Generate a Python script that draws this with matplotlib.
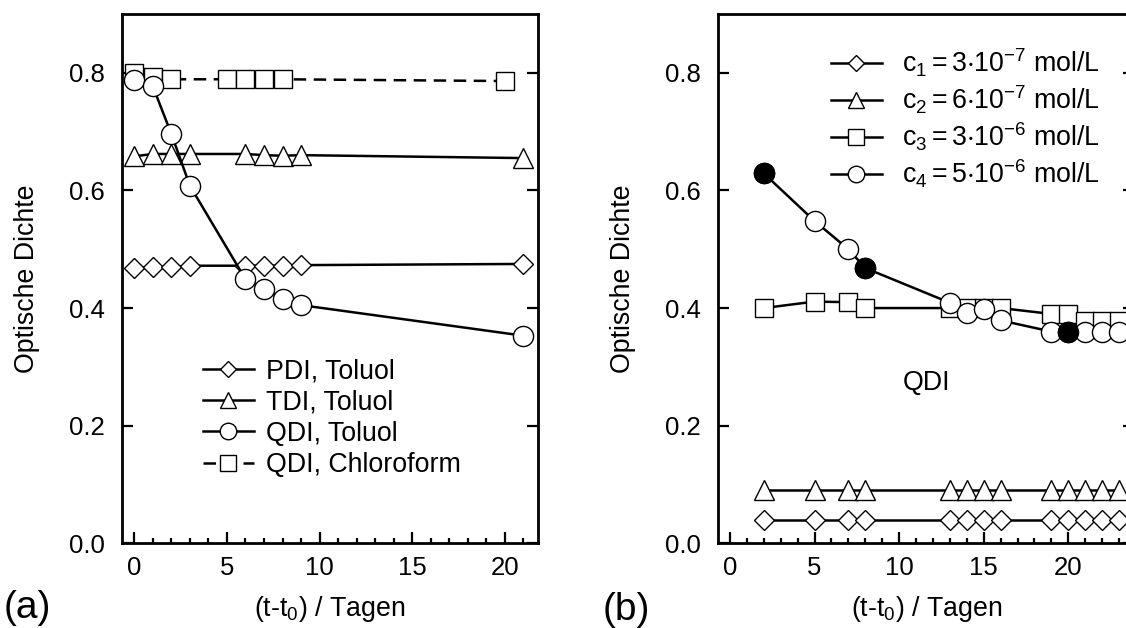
import matplotlib
matplotlib.use("Agg")
import matplotlib.pyplot as plt
from matplotlib.ticker import MultipleLocator

plt.rcParams['font.family'] = ['Liberation Sans', 'DejaVu Sans']
plt.rcParams['mathtext.fontset'] = 'custom'
plt.rcParams['mathtext.rm'] = 'Liberation Sans'
plt.rcParams['mathtext.it'] = 'Liberation Sans:italic'
plt.rcParams['mathtext.bf'] = 'Liberation Sans:bold'

# ---------------- data: panel (a) ----------------
a_days = [0, 1, 2, 3, 6, 7, 8, 9, 21]
a_pdi = [0.468, 0.470, 0.470, 0.472, 0.472, 0.472, 0.472, 0.473, 0.475]
a_tdi = [0.658, 0.662, 0.662, 0.662, 0.662, 0.660, 0.659, 0.660, 0.655]
a_qdi_tol = [0.787, 0.777, 0.696, 0.608, 0.449, 0.432, 0.416, 0.405, 0.353]
a_chl_days = [0, 1, 2, 5, 6, 7, 8, 20]
a_qdi_chl = [0.800, 0.793, 0.789, 0.789, 0.789, 0.789, 0.789, 0.786]
a_labels = ["PDI, Toluol", "TDI, Toluol", "QDI, Toluol", "QDI, Chloroform"]

# ---------------- data: panel (b) ----------------
b_days = [2, 5, 7, 8, 13, 14, 15, 16, 19, 20, 21, 22, 23]
b_c1 = [0.04] * 13
b_c2 = [0.09] * 13
b_c3 = [0.400, 0.411, 0.410, 0.400, 0.400, 0.400, 0.400, 0.400, 0.390, 0.390, 0.378, 0.378, 0.378]
b_c4 = [0.629, 0.548, 0.500, 0.468, 0.409, 0.391, 0.399, 0.379, 0.360, 0.360, 0.360, 0.360, 0.360]
b_filled_days = [2, 8, 20]
b_filled = [0.629, 0.468, 0.360]
b_labels = [r"$\mathregular{c_1 = 3{\cdot}10^{-7}}$ mol/L",
            r"$\mathregular{c_2 = 6{\cdot}10^{-7}}$ mol/L",
            r"$\mathregular{c_3 = 3{\cdot}10^{-6}}$ mol/L",
            r"$\mathregular{c_4 = 5{\cdot}10^{-6}}$ mol/L"]

xlabel = r"(t-t$\mathregular{_0}$) / Tagen"
ylabel = "Optische Dichte"

FS = 18.5     # tick labels
LFS = 19.3    # axis labels, legends, annotation
LW = 1.8
MEW = 1.0
MS = 14.5
DMS = 10.0

fig = plt.figure(figsize=(11.26, 6.28), dpi=100)
W = 416 / 1126
H = 529.3 / 628
ax1 = fig.add_axes([121.7 / 1126, 1 - 543.3 / 628, W, H])
ax2 = fig.add_axes([718.3 / 1126, 1 - 543.3 / 628, W, H])


def style(ax, xlim):
    ax.set_xlim(*xlim)
    ax.set_ylim(0, 0.9)
    ax.xaxis.set_major_locator(MultipleLocator(5))
    ax.xaxis.set_minor_locator(MultipleLocator(1))
    ax.yaxis.set_major_locator(MultipleLocator(0.2))
    ax.yaxis.set_major_formatter(plt.FuncFormatter(lambda v, p: f"{v:.1f}"))
    ax.tick_params(axis='both', which='both', direction='in', width=1.6,
                   labelsize=FS, top=False)
    ax.tick_params(axis='y', right=True, which='major', length=7.6, pad=12.3)
    ax.tick_params(axis='x', which='major', length=7.6, pad=9)
    ax.tick_params(axis='x', which='minor', length=3.8)
    for s in ax.spines.values():
        s.set_linewidth(2.0)
    ax.set_xlabel(xlabel, fontsize=LFS, labelpad=10.5)
    ax.set_ylabel(ylabel, fontsize=LFS, labelpad=21)


kw = dict(color='black', lw=LW, mfc='white', mec='black', mew=MEW)

# panel (a)
style(ax1, (-0.68, 21.77))
l_chl, = ax1.plot(a_chl_days, a_qdi_chl, marker='s', ms=MS - 1, ls=(0, (5, 3)), zorder=2, **kw)
l_pdi, = ax1.plot(a_days, a_pdi, marker='D', ms=DMS, zorder=3, **kw)
l_tdi, = ax1.plot(a_days, a_tdi, marker='^', ms=MS, zorder=3, **kw)
l_qdi, = ax1.plot(a_days, a_qdi_tol, marker='o', ms=MS, zorder=4, **kw)
ax1.legend([l_pdi, l_tdi, l_qdi, l_chl], a_labels, loc='upper left',
           bbox_to_anchor=(0.195, 0.350), frameon=False, fontsize=LFS,
           borderpad=0, borderaxespad=0, handlelength=1.9, handletextpad=0.45,
           labelspacing=0.2, markerscale=0.82)

# panel (b)
style(ax2, (-0.69, 23.9))
m_c1, = ax2.plot(b_days, b_c1, marker='D', ms=DMS, zorder=3, **kw)
m_c2, = ax2.plot(b_days, b_c2, marker='^', ms=MS, zorder=3, **kw)
m_c3, = ax2.plot(b_days, b_c3, marker='s', ms=MS - 1, zorder=3, **kw)
m_c4, = ax2.plot(b_days, b_c4, marker='o', ms=MS, zorder=4, **kw)
ax2.plot(b_filled_days, b_filled, ls='none', marker='o', ms=MS, mfc='black',
         mec='black', mew=MEW, zorder=5)
ax2.text(11.6, 0.272, "QDI", fontsize=LFS, ha='center', va='center')
ax2.legend([m_c1, m_c2, m_c3, m_c4], b_labels, loc='upper left',
           bbox_to_anchor=(0.2704, 0.939), frameon=False, fontsize=LFS,
           borderpad=0, borderaxespad=0, handlelength=1.9, handletextpad=0.75,
           labelspacing=0.18, markerscale=0.82)

fig.text(27.8 / 1126, 1 - 608 / 628, "(a)", fontsize=28, ha='center', va='center')
fig.text(626 / 1126, 1 - 610 / 628, "(b)", fontsize=28, ha='center', va='center')

fig.savefig("out.png", dpi=100)
